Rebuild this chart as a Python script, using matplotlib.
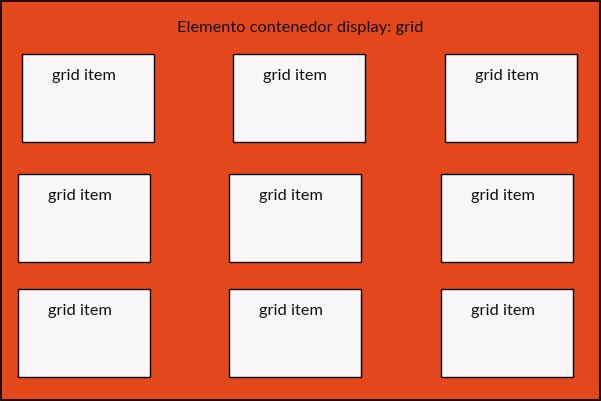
import matplotlib
matplotlib.use("Agg")
import matplotlib.pyplot as plt
from matplotlib.patches import Rectangle

# grid layout (pixels)
title = "Elemento contenedor display: grid"
item_label = "grid item"
row_tops = [54, 174, 289]
row_lefts = [
    [22, 233, 445],
    [18, 229, 441],
    [18, 229, 441],
]
item_w = 132
item_h = 88

bg = "#e5471d"
item_bg = "#f8f6f8"

W, H = 601, 401
fig = plt.figure(figsize=(W / 100, H / 100), dpi=100)
fig.patch.set_facecolor(bg)
ax = fig.add_axes([0, 0, 1, 1])
ax.set_xlim(0, W)
ax.set_ylim(H, 0)
ax.axis("off")

# outer border of container
ax.add_patch(Rectangle((0.5, 0.5), W - 1.5, H - 1.5, fill=False,
                       edgecolor="black", linewidth=1.2))

ax.text(300, 32, title, ha="center", va="baseline", fontsize=11.8,
        family="Lato", color="#111111")

for top, lefts in zip(row_tops, row_lefts):
    for left in lefts:
        ax.add_patch(Rectangle((left, top), item_w, item_h,
                               facecolor=item_bg, edgecolor="black",
                               linewidth=1.0))
        ax.text(left + 62, top + 26, item_label, ha="center", va="baseline",
                fontsize=11.8, family="Lato", color="#111111")

fig.savefig("out.png", dpi=100, facecolor=bg)
